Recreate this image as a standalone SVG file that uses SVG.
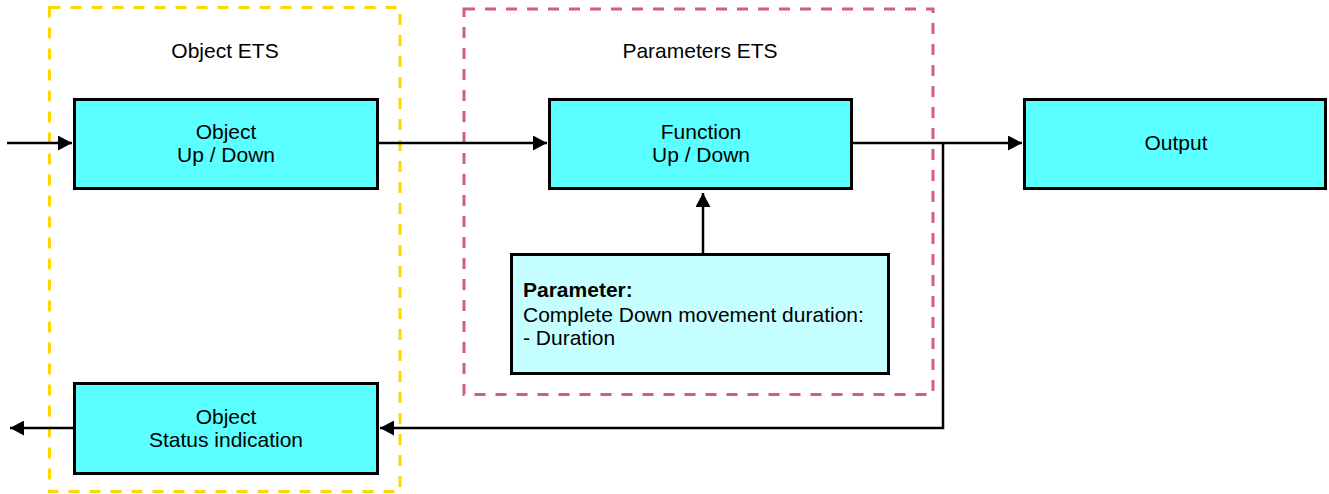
<svg xmlns="http://www.w3.org/2000/svg" width="1329" height="494" viewBox="0 0 1329 494">
<defs>
<marker id="arr" viewBox="0 0 14 15" refX="14" refY="7.5" markerWidth="14" markerHeight="15" markerUnits="userSpaceOnUse" orient="auto">
<path d="M0,0 L14,7.5 L0,15 Z" fill="#000"/>
</marker>
<style>
.box{fill:#5cffff;stroke:#000;stroke-width:3}
.pbox{fill:#c6ffff;stroke:#000;stroke-width:3}
.t{font-family:"Liberation Sans",Arial,sans-serif;font-size:21px;fill:#000;text-anchor:middle}
.tl{font-family:"Liberation Sans",Arial,sans-serif;font-size:21px;fill:#000}
.c{fill:none;stroke:#000;stroke-width:2.5}
.grp{fill:none;stroke-width:3;stroke-dasharray:11,10}
</style>
</defs>
<rect width="1329" height="494" fill="#fff"/>
<g id="group-object-ets">
<rect class="grp" x="49.5" y="7.5" width="350.5" height="484" stroke="#ffd700"/>
<text class="t" x="225" y="58">Object ETS</text>
</g>
<g id="group-parameters-ets">
<rect class="grp" x="464" y="9" width="469" height="385.5" stroke="#cf5f85"/>
<text class="t" x="700" y="58">Parameters ETS</text>
</g>
<g id="connectors">
<line class="c" x1="7" y1="143" x2="72" y2="143" marker-end="url(#arr)"/>
<line class="c" x1="378" y1="143" x2="547" y2="143" marker-end="url(#arr)"/>
<line class="c" x1="852" y1="143" x2="1022" y2="143" marker-end="url(#arr)"/>
<polyline class="c" points="943,143 943,428 380,428" marker-end="url(#arr)"/>
<line class="c" x1="74" y1="428" x2="10" y2="428" marker-end="url(#arr)"/>
<line class="c" x1="703" y1="254" x2="703" y2="193" marker-end="url(#arr)"/>
</g>
<g id="node-object-updown">
<rect class="box" x="74.5" y="99.5" width="303" height="89"/>
<text class="t" x="226" y="139">Object</text>
<text class="t" x="226" y="162">Up / Down</text>
</g>
<g id="node-function-updown">
<rect class="box" x="549.5" y="99.5" width="302" height="89"/>
<text class="t" x="701" y="139">Function</text>
<text class="t" x="701" y="162">Up / Down</text>
</g>
<g id="node-output">
<rect class="box" x="1024.5" y="99.5" width="301" height="89"/>
<text class="t" x="1176" y="150">Output</text>
</g>
<g id="node-parameter">
<rect class="pbox" x="511.5" y="254.5" width="377" height="119"/>
<text class="tl" x="523" y="297" font-weight="bold">Parameter:</text>
<text class="tl" x="523" y="322">Complete Down movement duration:</text>
<text class="tl" x="523" y="345">- Duration</text>
</g>
<g id="node-object-status">
<rect class="box" x="74.5" y="383.5" width="303" height="90"/>
<text class="t" x="226" y="424">Object</text>
<text class="t" x="226" y="447">Status indication</text>
</g>
</svg>
